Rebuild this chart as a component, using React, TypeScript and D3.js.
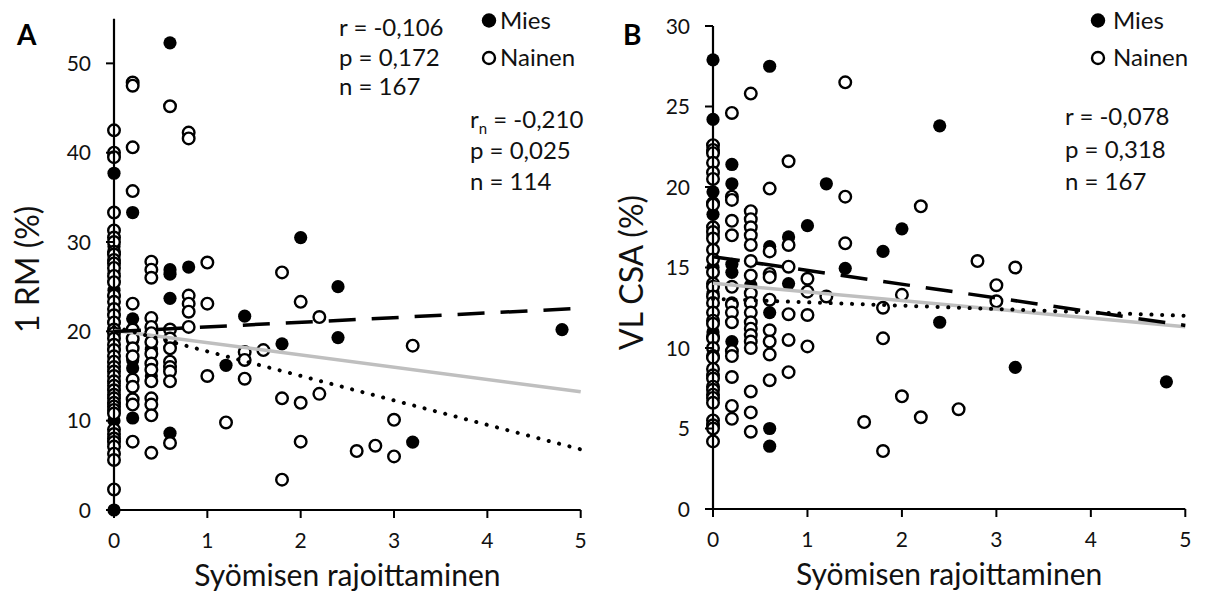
import React from 'react';
import * as d3 from 'd3';

type Pt = [number, number];

// ---------- Shared tick labels ----------
const xTickValues = [0, 1, 2, 3, 4, 5];
const yTickValuesA = [0, 10, 20, 30, 40, 50];
const yTickValuesB = [0, 5, 10, 15, 20, 25, 30];

// ---------- Panel A : 1 RM (%) ----------
const miesA: Pt[] = [
  [0.6, 52.3], [0, 37.7], [0.2, 33.3], [2.0, 30.5], [0.8, 27.2], [0.6, 26.9], [0.6, 26.4],
  [2.4, 25.0], [0, 24.6], [0, 23.9], [0.6, 23.7], [1.4, 21.7], [0.2, 21.4], [4.8, 20.2],
  [2.4, 19.3], [1.8, 18.6], [0.2, 16.8], [0.2, 15.9], [1.2, 16.2], [0.2, 10.3], [0.6, 8.6],
  [3.2, 7.6], [0, 0], [0, 14.2], [0, 12.0], [0, 21.0], [0, 18.0], [0, 26.5], [0, 29.5],
  [0.4, 18.0], [0.2, 19.0], [0.4, 15.0], [0, 16.5], [0, 10.0],
];
const nainenA: Pt[] = [
  [0, 42.5], [0, 40.0], [0, 39.5], [0, 33.3], [0, 31.3], [0, 30.5], [0, 30.0], [0, 28.9],
  [0, 28.6], [0, 28.0], [0, 27.6], [0, 27.1], [0, 26.2], [0, 25.5], [0, 24.0], [0, 23.3],
  [0, 22.5], [0, 21.8], [0, 21.0], [0, 20.2], [0, 19.8], [0, 19.2], [0, 18.5], [0, 17.9],
  [0, 17.2], [0, 16.6], [0, 16.0], [0, 15.5], [0, 15.0], [0, 14.4], [0, 13.9], [0, 13.4],
  [0, 12.9], [0, 12.5], [0, 12.0], [0, 11.6], [0, 11.2], [0, 10.8], [0, 9.0], [0, 8.5],
  [0, 8.0], [0, 7.6], [0, 7.1], [0, 6.3], [0, 5.6], [0, 2.3],
  [0.2, 47.85], [0.2, 47.5], [0.2, 40.6], [0.2, 35.7], [0.2, 23.1], [0.2, 20.2], [0.2, 19.2],
  [0.2, 18.1], [0.2, 17.2], [0.2, 14.6], [0.2, 13.8], [0.2, 12.4], [0.2, 11.8], [0.2, 7.65],
  [0.4, 27.8], [0.4, 26.9], [0.4, 26.0], [0.4, 21.5], [0.4, 20.5], [0.4, 19.8], [0.4, 18.8],
  [0.4, 17.5], [0.4, 16.4], [0.4, 15.7], [0.4, 14.4], [0.4, 12.5], [0.4, 11.8], [0.4, 10.6],
  [0.4, 6.4],
  [0.6, 45.2], [0.6, 20.2], [0.6, 19.2], [0.6, 18.1], [0.6, 16.6], [0.6, 16.0], [0.6, 15.5],
  [0.6, 14.4], [0.6, 7.5],
  [0.8, 42.25], [0.8, 41.6], [0.8, 24.0], [0.8, 23.1], [0.8, 22.2], [0.8, 20.5],
  [1.0, 27.7], [1.0, 23.1], [1.0, 15.0],
  [1.2, 9.8],
  [1.4, 17.7], [1.4, 16.8], [1.4, 14.7],
  [1.6, 17.9],
  [1.8, 26.6], [1.8, 12.5], [1.8, 3.4],
  [2.0, 23.3], [2.0, 12.0], [2.0, 7.65],
  [2.2, 21.6], [2.2, 13.0],
  [2.6, 6.6], [2.8, 7.2],
  [3.0, 10.1], [3.0, 6.0],
  [3.2, 18.4],
];
const trendAllA: Pt[] = [[0, 20.1], [5, 13.24]];
const trendMiesA: Pt[] = [[0, 19.97], [5, 22.58]];
const trendNainenA: Pt[] = [[0, 20.5], [5, 6.79]];
const statsA1 = ['r = -0,106', 'p = 0,172', 'n = 167'];
const statsA2 = ['p = 0,025', 'n = 114'];
const statsA2r = ' = -0,210';

// ---------- Panel B : VL CSA (%) ----------
const miesB: Pt[] = [
  [0, 27.9], [0, 24.2], [0.6, 27.5], [2.4, 23.8], [0.2, 21.4], [0.2, 20.2], [1.2, 20.2],
  [0, 19.7], [0, 18.3], [1.0, 17.6], [2.0, 17.4], [0.8, 16.9], [0.6, 16.3], [1.8, 16.0],
  [0.2, 15.2], [0.2, 14.7], [1.4, 14.95], [0.8, 14.0], [0, 13.4], [0.6, 12.2], [2.4, 11.6],
  [0.2, 10.4], [3.2, 8.8], [4.8, 7.9], [0.6, 5.0], [0.6, 3.9], [0, 15.0], [0, 11.0],
  [0.2, 12.8], [0.4, 13.9], [0, 17.0],
];
const nainenB: Pt[] = [
  [0, 22.6], [0, 22.3], [0, 22.1], [0, 21.5], [0, 20.9], [0, 20.5], [0, 19.0], [0, 18.9],
  [0, 17.5], [0, 17.2], [0, 16.8], [0, 16.1], [0, 15.5], [0, 14.7], [0, 14.0], [0, 13.8],
  [0, 13.2], [0, 12.8], [0, 12.2], [0, 11.7], [0, 11.5], [0, 10.7], [0, 10.6], [0, 10.0],
  [0, 9.5], [0, 9.4], [0, 8.7], [0, 8.3], [0, 8.1], [0, 7.6], [0, 7.4], [0, 7.1], [0, 6.9],
  [0, 6.6], [0, 5.5], [0, 5.2], [0, 5.0], [0, 4.2],
  [0.2, 24.6], [0.2, 19.4], [0.2, 19.2], [0.2, 17.9], [0.2, 17.0], [0.2, 13.8], [0.2, 12.7],
  [0.2, 12.2], [0.2, 11.6], [0.2, 9.8], [0.2, 9.5], [0.2, 8.2], [0.2, 6.4], [0.2, 5.6],
  [0.4, 25.8], [0.4, 18.5], [0.4, 18.0], [0.4, 17.5], [0.4, 17.0], [0.4, 16.4], [0.4, 15.4],
  [0.4, 14.5], [0.4, 13.4], [0.4, 12.8], [0.4, 12.2], [0.4, 11.6], [0.4, 11.2], [0.4, 10.8],
  [0.4, 10.4], [0.4, 10.0], [0.4, 7.3], [0.4, 6.0], [0.4, 4.8],
  [0.6, 19.9], [0.6, 16.0], [0.6, 14.6], [0.6, 14.4], [0.6, 13.0], [0.6, 11.1], [0.6, 10.4],
  [0.6, 9.6], [0.6, 8.0],
  [0.8, 21.6], [0.8, 16.4], [0.8, 15.05], [0.8, 12.1], [0.8, 10.5], [0.8, 8.5],
  [1.0, 14.3], [1.0, 13.5], [1.0, 12.05], [1.0, 10.1],
  [1.2, 13.2],
  [1.4, 26.5], [1.4, 19.4], [1.4, 16.5],
  [1.6, 5.4],
  [1.8, 12.5], [1.8, 10.6], [1.8, 3.6],
  [2.0, 13.3], [2.0, 7.0],
  [2.2, 18.8], [2.2, 5.7],
  [2.6, 6.2], [2.8, 15.4],
  [3.0, 13.9], [3.0, 12.9],
  [3.2, 15.0],
];
const trendAllB: Pt[] = [[0, 14.02], [5, 11.32]];
const trendMiesB: Pt[] = [[0, 15.67], [5, 11.4]];
const trendNainenB: Pt[] = [[0, 13.05], [5, 12.0]];
const statsB = ['r = -0,078', 'p = 0,318', 'n = 167'];

const legendLabels = ['Mies', 'Nainen'];
const xTitle = 'Syömisen rajoittaminen';

const FONT = 'Lato, "Open Sans", sans-serif';
const INK = '#111';

type PanelProps = {
  xRange: [number, number];
  yRange: [number, number];
  yDomain: [number, number];
  yTicks: number[];
  mies: Pt[];
  nainen: Pt[];
  trendAll: Pt[];
  trendMies: Pt[];
  trendNainen: Pt[];
  yTitle: string;
  yTitleX: number;
  letter: string;
  letterX: number;
};

function Panel(p: PanelProps) {
  const x = d3.scaleLinear().domain([0, 5]).range(p.xRange);
  const y = d3.scaleLinear().domain(p.yDomain).range(p.yRange);
  const line = d3.line<Pt>().x((d) => x(d[0])).y((d) => y(d[1]));
  const x0 = x(0);
  const y0 = y(0);
  const yTop = y(p.yDomain[1]);
  const xEnd = x(5);
  const midX = (x0 + xEnd) / 2;
  const midY = (y0 + yTop) / 2 + 5;
  return (
    <g>
      {/* markers: Mies below, Nainen on top */}
      {p.mies.map((d, i) => (
        <circle key={'m' + i} cx={x(d[0])} cy={y(d[1])} r={6.6} fill="#000" />
      ))}
      {p.nainen.map((d, i) => (
        <circle key={'n' + i} cx={x(d[0])} cy={y(d[1])} r={5.8} fill="#fff" stroke="#000" strokeWidth={2.4} />
      ))}
      {/* axes */}
      <line x1={x0} x2={x0} y1={yTop} y2={y0} stroke="#000" strokeWidth={2.2} />
      <line x1={x0 - 8} x2={xEnd} y1={y0} y2={y0} stroke="#000" strokeWidth={2.2} />
      {p.yTicks.map((t) => (
        <g key={'yt' + t}>
          <line x1={x0 - 8} x2={x0} y1={y(t)} y2={y(t)} stroke="#000" strokeWidth={2} />
          <text x={x0 - 23} y={y(t) + 7.5} textAnchor="end" fontSize={21} fontFamily={FONT} fill={INK}>
            {t}
          </text>
        </g>
      ))}
      {xTickValues.map((t) => (
        <g key={'xt' + t}>
          <line x1={x(t)} x2={x(t)} y1={y0} y2={y0 + 8} stroke="#000" strokeWidth={2} />
          <text x={x(t)} y={y0 + 38} textAnchor="middle" fontSize={21} fontFamily={FONT} fill={INK}>
            {t}
          </text>
        </g>
      ))}
      {/* trend lines */}
      <path d={line(p.trendAll) || ''} fill="none" stroke="#BFBFBF" strokeWidth={3.5} />
      <path d={line(p.trendMies) || ''} fill="none" stroke="#000" strokeWidth={3.5} strokeDasharray="27,16" />
      <path
        d={line(p.trendNainen) || ''}
        fill="none"
        stroke="#000"
        strokeWidth={4}
        strokeDasharray="0.1,10.6"
        strokeLinecap="round"
      />
      {/* titles */}
      <text x={midX} y={y0 + 76} textAnchor="middle" fontSize={30} fontFamily={FONT} fill={INK}>
        {xTitle}
      </text>
      <text
        transform={`translate(${p.yTitleX},${midY}) rotate(-90)`}
        textAnchor="middle"
        fontSize={32}
        fontFamily={FONT}
        fill={INK}
      >
        {p.yTitle}
      </text>
      <text x={p.letterX} y={45} fontSize={28} fontWeight="bold" fontFamily={FONT} fill="#000">
        {p.letter}
      </text>
    </g>
  );
}

function Legend({ cx, tx }: { cx: number; tx: number }) {
  return (
    <g fontFamily={FONT} fontSize={24} fill={INK}>
      <circle cx={cx} cy={20.5} r={7.2} fill="#000" />
      <text x={tx} y={28.5}>{legendLabels[0]}</text>
      <circle cx={cx} cy={58} r={6} fill="#fff" stroke="#000" strokeWidth={2.4} />
      <text x={tx} y={65.5}>{legendLabels[1]}</text>
    </g>
  );
}

function Stats({ x, y, lines, step }: { x: number; y: number; lines: string[]; step: number }) {
  return (
    <g fontFamily={FONT} fontSize={24} fill={INK}>
      {lines.map((l, i) => (
        <text key={i} x={x} y={y + i * step}>
          {l}
        </text>
      ))}
    </g>
  );
}

export default function App() {
  return (
    <svg
      width={1205}
      height={597}
      viewBox="0 0 1205 597"
      style={{ position: 'absolute', left: 0, top: 0, background: '#fff' }}
    >
      <rect width={1205} height={597} fill="#fff" />
      <Panel
        xRange={[114, 580.7]}
        yRange={[510, 18.7]}
        yDomain={[0, 55]}
        yTicks={yTickValuesA}
        mies={miesA}
        nainen={nainenA}
        trendAll={trendAllA}
        trendMies={trendMiesA}
        trendNainen={trendNainenA}
        yTitle="1 RM (%)"
        yTitleX={39}
        letter="A"
        letterX={17}
      />
      <Panel
        xRange={[713, 1185.3]}
        yRange={[509, 26]}
        yDomain={[0, 30]}
        yTicks={yTickValuesB}
        mies={miesB}
        nainen={nainenB}
        trendAll={trendAllB}
        trendMies={trendMiesB}
        trendNainen={trendNainenB}
        yTitle="VL CSA (%)"
        yTitleX={643}
        letter="B"
        letterX={623}
      />
      <Stats x={339} y={36} lines={statsA1} step={29.5} />
      <g fontFamily={FONT} fontSize={24} fill={INK}>
        <text x={470} y={127.5}>
          r<tspan fontSize={15} dy={6}>n</tspan>
          <tspan dy={-6}>{statsA2r}</tspan>
        </text>
      </g>
      <Stats x={470} y={158.5} lines={statsA2} step={31} />
      <Legend cx={489} tx={500} />
      <Stats x={1065} y={125} lines={statsB} step={32.5} />
      <Legend cx={1098} tx={1113} />
    </svg>
  );
}
